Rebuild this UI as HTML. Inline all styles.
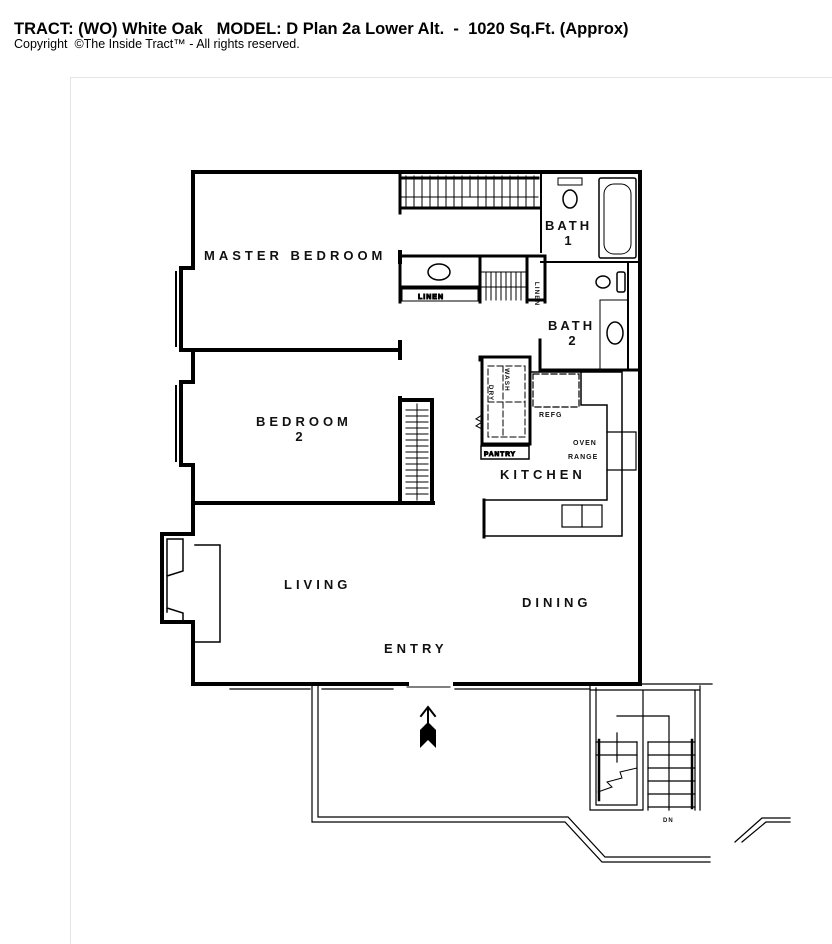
<!DOCTYPE html>
<html><head><meta charset="utf-8"><style>
html,body{margin:0;padding:0;background:#fff;width:832px;height:944px;overflow:hidden}
svg{position:absolute;left:0;top:0}
text{font-family:"Liberation Sans",sans-serif}
.l{font-weight:bold;font-size:13px;letter-spacing:4px;fill:#111}
.s{font-weight:bold;font-size:7px;letter-spacing:1px;fill:#111}
</style></head><body>
<svg width="832" height="944" viewBox="0 0 832 944" xmlns="http://www.w3.org/2000/svg">
<text x="14" y="34" font-weight="bold" font-size="16.5" fill="#000">TRACT: (WO) White Oak &#160; MODEL: D Plan 2a Lower Alt. &#160;- &#160;1020 Sq.Ft. (Approx)</text>
<text x="14" y="48" font-size="12.5" fill="#000">Copyright &#160;©The Inside Tract™ - All rights reserved.</text>
<path d="M70.5 944 V77.5 H832" fill="none" stroke="#e4e4e4" stroke-width="1"/>
<g fill="none" stroke="#000" stroke-linecap="square">
<path d="M193 505 V465 H181 V382 H193 V350 M181 350 V268 H193 V172 H640 V684 H455 M407 684 H193 V622 H162 V534 H193 V505" stroke-width="4"/>
<path d="M181 350 H400" stroke-width="4"/>
<path d="M193 503 H433" stroke-width="4"/>
<path d="M176 272 V346 M176 386 V461" stroke-width="2"/>
<path d="M195 545 H220 V642 H195" stroke-width="1.5"/>
<path d="M167 539 V612 M167 539 H183 V571 L167 576 M167 608 L183 613 V620" stroke-width="1.5"/>
<path d="M400 172 V213 M400 208 H540 M402 178 H538" stroke-width="3"/>
<g stroke-width="1">
<path d="M406 176 V206 M414 176 V206 M422 176 V206 M430 176 V206 M438 176 V206 M446 176 V206 M454 176 V206 M462 176 V206 M478 176 V206 M486 176 V206 M494 176 V206 M502 176 V206 M510 176 V206 M518 176 V206 M526 176 V206 M534 176 V206"/>
<path d="M470 176 V197 M402 197 H538"/>
</g>
<path d="M541 172 V252 M541 262 H640" stroke-width="2"/>
<rect x="599" y="178" width="37" height="80" rx="2" stroke-width="1.5"/>
<rect x="604" y="184" width="27" height="70" rx="10" stroke-width="1"/>
<rect x="558" y="178" width="24" height="7" stroke-width="1"/>
<ellipse cx="570" cy="199" rx="7" ry="9" stroke-width="1.5"/>
<path d="M400 256 V302 M400 256 H545 V302 M400 287 H480 M480 256 V302 M527 256 V302 M527 300 H545" stroke-width="3"/>
<rect x="402" y="289" width="76" height="12" stroke-width="1"/>
<text x="418" y="299" class="s">LINEN</text>
<ellipse cx="439" cy="272" rx="11" ry="8" stroke-width="1.5"/>
<path d="M482 272 H525 M482 287 H525 M486 272 V300 M491 272 V300 M496 272 V300 M501 272 V300 M506 272 V300 M511 272 V300 M516 272 V300 M521 272 V300" stroke-width="1"/>
<path d="M540 340 V370 H640 M480 360 V357 H530 V370" stroke-width="3"/>
<path d="M628 262 V370" stroke-width="2"/>
<rect x="600" y="300" width="28" height="70" stroke-width="1"/>
<ellipse cx="615" cy="333" rx="8" ry="11" stroke-width="1.5"/>
<ellipse cx="603" cy="282" rx="7" ry="6" stroke-width="1.5"/>
<rect x="617" y="272" width="8" height="20" rx="2" stroke-width="1.5"/>
<path d="M482 357 V444 H530 V370" stroke-width="3"/>
<path d="M488 366 H525 V437 H488 Z M503 366 V437 M488 402 H525" stroke-width="1" stroke-dasharray="6 3"/>
<rect x="481" y="446" width="48" height="13" stroke-width="1.5"/>
<text x="484" y="456" class="s" style="font-size:6.5px">PANTRY</text>
<path d="M482 415 l-6 4 l6 3 l-6 4 l6 3" stroke-width="1"/>
<rect x="533" y="374" width="46" height="33" stroke-width="1.2" stroke-dasharray="6 3"/>
<path d="M532 372 H622 V535 M581 372 V405 H607 V500 H484 V536 H622" stroke-width="1.5"/>
<path d="M484 500 V537" stroke-width="3"/>
<path d="M607 432 H636 V470 H607" stroke-width="1.2"/>
<rect x="562" y="505" width="40" height="22" stroke-width="1.2"/>
<path d="M582 505 V527" stroke-width="1.2"/>
<path d="M400 398 V503 M400 400 H432 V503" stroke-width="4"/>
<path d="M406 410 H428 M406 416 H428 M406 422 H428 M406 428 H428 M406 434 H428 M406 440 H428 M406 446 H428 M406 452 H428 M406 458 H428 M406 464 H428 M406 470 H428 M406 476 H428 M406 482 H428 M406 488 H428 M406 494 H428 M417 404 V500" stroke-width="1"/>
<path d="M400 342 V358 M400 252 V262" stroke-width="4"/>
<path d="M230 689 H310 M322 689 H393 M455 689 H590 M232 685 H305 M325 685 H393 M458 685 H590" stroke-width="1.2"/>
<path d="M407 687 H450" stroke-width="1"/>
<path d="M312 686 V822 H565 L602 862 H710 M318 686 V817 H568 L605 857 H710" stroke-width="1.2"/>
<path d="M735 842 L762 818 H790 M742 842 L766 822 H790" stroke-width="1.2"/>
<path d="M590 686 V810 H643 M596 688 V805 H637 M590 684 H712 M590 690 H700 M700 686 V810 M695 690 V810 M643 690 V810 M637 742 V805 M648 742 V810 M617 733 V762 M617 716 H669 V810" stroke-width="1.2"/>
<path d="M596 742 H637 M596 755 H637 M648 742 H695 M648 755 H695 M648 768 H695 M648 781 H695 M648 794 H695 M648 807 H695" stroke-width="1.2"/>
<path d="M598 792 L612 787 L607 782 L622 778 L620 772 L637 768" stroke-width="1"/>
<path d="M599 740 V800 M692 740 V808" stroke-width="2.5"/>
<path d="M421 716 L428 707 L435 716" stroke-width="2"/>
</g>
<path d="M428 708 V730" stroke="#000" stroke-width="2"/>
<path d="M420 730 L428 722 L436 730 V748 L428 740 L420 748 Z" fill="#000"/>
<text x="204" y="260" class="l">MASTER BEDROOM</text>
<text x="256" y="426" class="l">BEDROOM</text>
<text x="301" y="441" class="l" text-anchor="middle">2</text>
<text x="545" y="230" class="l" style="letter-spacing:3px">BATH</text>
<text x="568" y="245" class="l" text-anchor="middle" style="letter-spacing:0">1</text>
<text x="548" y="330" class="l" style="letter-spacing:3px">BATH</text>
<text x="572" y="345" class="l" text-anchor="middle" style="letter-spacing:0">2</text>
<text x="500" y="479" class="l">KITCHEN</text>
<text x="284" y="589" class="l">LIVING</text>
<text x="522" y="607" class="l">DINING</text>
<text x="384" y="653" class="l">ENTRY</text>
<text x="539" y="417" class="s">REFG</text>
<text x="573" y="445" class="s">OVEN</text>
<text x="568" y="459" class="s">RANGE</text>
<text x="663" y="822" class="s" style="font-size:6px">DN</text>
<text x="535" y="294" class="s" transform="rotate(90 535 294)" text-anchor="middle" style="font-size:6.5px">LINEN</text>
<text x="489" y="393" class="s" transform="rotate(90 489 393)" text-anchor="middle" style="font-size:6.5px">DRY</text>
<text x="505" y="380" class="s" transform="rotate(90 505 380)" text-anchor="middle" style="font-size:6.5px">WASH</text>
</svg>
</body></html>
